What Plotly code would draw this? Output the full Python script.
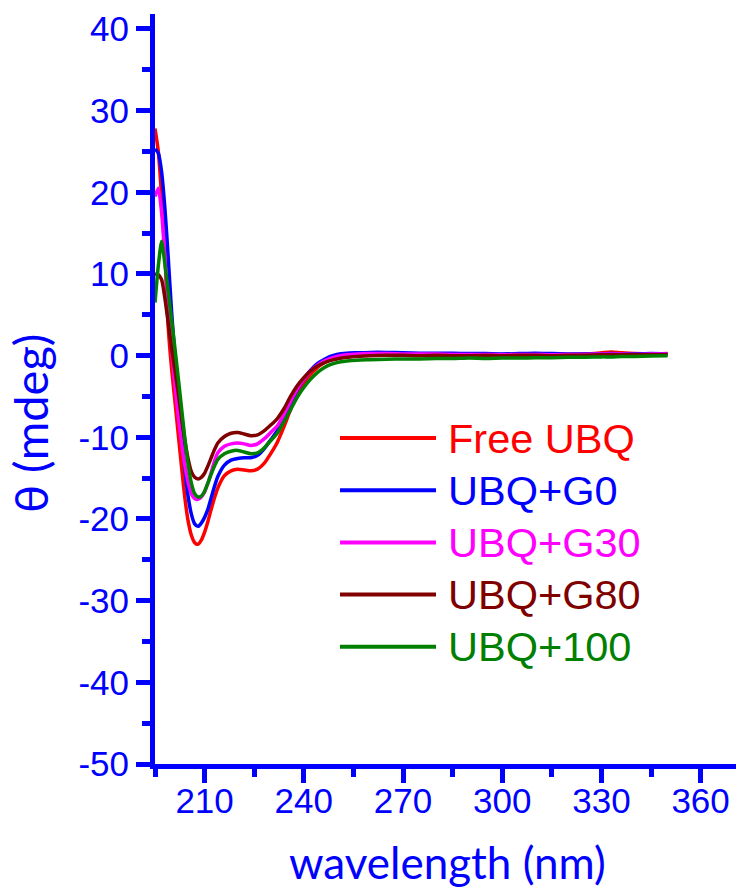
import plotly.graph_objects as go

# Wavelength grid (nm)
wavelength = [195, 196, 197, 198, 199, 200, 201, 202, 203, 204, 205, 206, 207, 208, 209,
              210, 211, 212, 213, 214, 216, 218, 220, 222, 224, 226, 228, 230, 232, 234,
              236, 238, 240, 242, 244, 246, 248, 250, 253, 256, 260, 265, 270, 275, 280,
              285, 290, 295, 300, 305, 310, 315, 320, 325, 330, 333, 336, 340, 345, 350]

# Ellipticity (mdeg) for each sample
free_ubq = [27.8, 25.0, 19.5, 12.5, 3.5, -1.5, -5.5, -9.5, -13.5, -17.3, -20.2, -22.0, -22.9, -23.1, -22.6,
            -21.6, -20.3, -18.8, -17.4, -16.2, -14.7, -14.1, -13.9, -14.0, -14.1, -13.9, -13.2, -12.0, -10.6, -8.7,
            -6.6, -4.8, -3.4, -2.3, -1.5, -0.9, -0.5, -0.25, 0.0, 0.1, 0.15, 0.2, 0.15, 0.2, 0.15,
            0.2, 0.15, 0.1, 0.15, 0.2, 0.15, 0.2, 0.15, 0.2, 0.35, 0.45, 0.35, 0.25, 0.2, 0.25]
ubq_g0 = [25.3, 24.8, 22.5, 18.0, 12.0, 5.5, 0.0, -5.0, -9.5, -13.8, -17.2, -19.4, -20.6, -20.9, -20.5,
          -19.8, -18.8, -17.4, -16.0, -14.8, -13.4, -12.8, -12.6, -12.5, -12.5, -12.2, -11.4, -10.3, -9.2, -7.6,
          -5.8, -4.2, -2.9, -1.8, -1.0, -0.5, -0.1, 0.15, 0.3, 0.35, 0.4, 0.4, 0.35, 0.3, 0.3,
          0.3, 0.25, 0.25, 0.2, 0.25, 0.3, 0.25, 0.2, 0.2, 0.2, 0.25, 0.2, 0.2, 0.25, 0.2]
ubq_g30 = [19.5, 20.5, 17.5, 12.0, 6.0, 1.0, -3.5, -7.3, -10.6, -13.4, -15.5, -16.9, -17.5, -17.6, -17.3,
           -16.7, -15.6, -14.3, -12.9, -11.9, -11.1, -10.8, -10.7, -10.8, -11.0, -10.8, -10.2, -9.4, -8.6, -7.2,
           -5.6, -4.1, -2.9, -1.9, -1.2, -0.7, -0.35, -0.1, 0.1, 0.2, 0.25, 0.25, 0.2, 0.2, 0.2,
           0.15, 0.15, 0.15, 0.1, 0.15, 0.15, 0.1, 0.15, 0.15, 0.2, 0.2, 0.2, 0.15, 0.2, 0.2]
ubq_g80 = [10.0, 9.9, 9.3, 7.0, 4.0, 1.0, -1.8, -4.5, -7.5, -10.3, -12.6, -14.2, -14.9, -15.1, -14.9,
           -14.4, -13.5, -12.5, -11.5, -10.7, -9.9, -9.5, -9.4, -9.6, -9.8, -9.7, -9.2, -8.5, -7.7, -6.5,
           -5.0, -3.7, -2.7, -1.9, -1.3, -0.9, -0.6, -0.4, -0.2, -0.1, 0.0, 0.05, 0.05, 0.0, 0.05,
           0.0, 0.0, 0.05, 0.0, 0.05, 0.05, 0.0, 0.05, 0.05, 0.1, 0.1, 0.1, 0.1, 0.1, 0.1]
ubq_100 = [6.5, 11.0, 14.0, 11.2, 7.8, 4.5, 1.0, -2.6, -6.3, -10.0, -13.3, -15.6, -16.9, -17.3, -17.2,
           -16.6, -15.6, -14.5, -13.5, -12.7, -12.0, -11.7, -11.6, -11.8, -12.0, -11.9, -11.3, -10.4, -9.5, -8.1,
           -6.6, -5.1, -3.9, -2.9, -2.1, -1.5, -1.1, -0.85, -0.65, -0.55, -0.5, -0.45, -0.4, -0.4, -0.35,
           -0.35, -0.3, -0.35, -0.3, -0.3, -0.25, -0.25, -0.2, -0.2, -0.15, -0.15, -0.1, -0.1, -0.05, 0.0]

series_names = ["Free UBQ", "UBQ+G0", "UBQ+G30", "UBQ+G80", "UBQ+100"]
series_values = [free_ubq, ubq_g0, ubq_g30, ubq_g80, ubq_100]
series_colors = ["#ff0000", "#0000ff", "#ff00ff", "#800000", "#008000"]

x_ticks = [210, 240, 270, 300, 330, 360]
y_ticks = [-50, -40, -30, -20, -10, 0, 10, 20, 30, 40]

AXIS_BLUE = "#0000ff"
W, H = 738, 892
M_L, M_R, M_T, M_B = 155, 2, 14, 128
PW = W - M_L - M_R
PH = H - M_T - M_B


def px_to_paper_x(px):
    return (px - M_L) / PW


def px_to_paper_y(py):
    return (H - M_B - py) / PH


fig = go.Figure()
for name, vals, col in zip(series_names, series_values, series_colors):
    fig.add_trace(go.Scatter(
        x=wavelength, y=vals, name=name, mode="lines",
        line=dict(color=col, width=3.5, shape="spline", smoothing=0.6),
        showlegend=False,
    ))

# Legend drawn as sample lines plus coloured labels
leg_y0, leg_step = 438, 52.2
for i, (name, col) in enumerate(zip(series_names, series_colors)):
    yy = px_to_paper_y(leg_y0 + i * leg_step)
    fig.add_shape(type="line", xref="paper", yref="paper",
                  x0=px_to_paper_x(340), x1=px_to_paper_x(436), y0=yy, y1=yy,
                  line=dict(color=col, width=4))
    fig.add_annotation(text=name, xref="paper", yref="paper",
                       x=px_to_paper_x(446), y=yy, xanchor="left", yanchor="middle",
                       showarrow=False,
                       font=dict(family="Liberation Sans, Arial", size=41.5, color=col))

# Axis titles
fig.add_annotation(text="wavelength (nm)", xref="paper", yref="paper",
                   x=px_to_paper_x(447), y=px_to_paper_y(862),
                   xanchor="center", yanchor="middle", showarrow=False,
                   font=dict(family="Lato, Open Sans", size=44, color=AXIS_BLUE))
fig.add_annotation(text="θ (mdeg)", xref="paper", yref="paper",
                   x=px_to_paper_x(30), y=px_to_paper_y(424), textangle=-90,
                   xanchor="center", yanchor="middle", showarrow=False,
                   font=dict(family="Lato, Open Sans", size=47, color=AXIS_BLUE))

tick_font = dict(family="Liberation Sans, Arial", size=35, color=AXIS_BLUE)
fig.update_xaxes(
    range=[195, 195 + PW / 3.3067], tickmode="array", tickvals=x_ticks,
    ticktext=[str(v) for v in x_ticks], ticks="outside", ticklen=14, tickwidth=4.5,
    tickcolor=AXIS_BLUE, tickfont=tick_font, showline=True, linecolor=AXIS_BLUE,
    linewidth=5, showgrid=False, zeroline=False, ticklabelstandoff=-12,
    minor=dict(tickvals=[195, 225, 255, 285, 315, 345], ticks="outside", ticklen=8,
               tickwidth=4.5, tickcolor=AXIS_BLUE),
)
fig.update_yaxes(
    range=[-50, -50 + PH / 8.167], tickmode="array", tickvals=y_ticks,
    ticktext=[str(v) for v in y_ticks], ticks="outside", ticklen=14, tickwidth=4.5,
    tickcolor=AXIS_BLUE, tickfont=tick_font, showline=True, linecolor=AXIS_BLUE,
    linewidth=5, showgrid=False, zeroline=False,
    minor=dict(tickvals=[-45, -35, -25, -15, -5, 5, 15, 25, 35], ticks="outside",
               ticklen=8, tickwidth=4.5, tickcolor=AXIS_BLUE),
)

fig.update_layout(
    width=W, height=H,
    margin=dict(l=M_L, r=M_R, t=M_T, b=M_B, pad=0),
    paper_bgcolor="white", plot_bgcolor="white",
    showlegend=False,
)

fig.write_html("out.html")
